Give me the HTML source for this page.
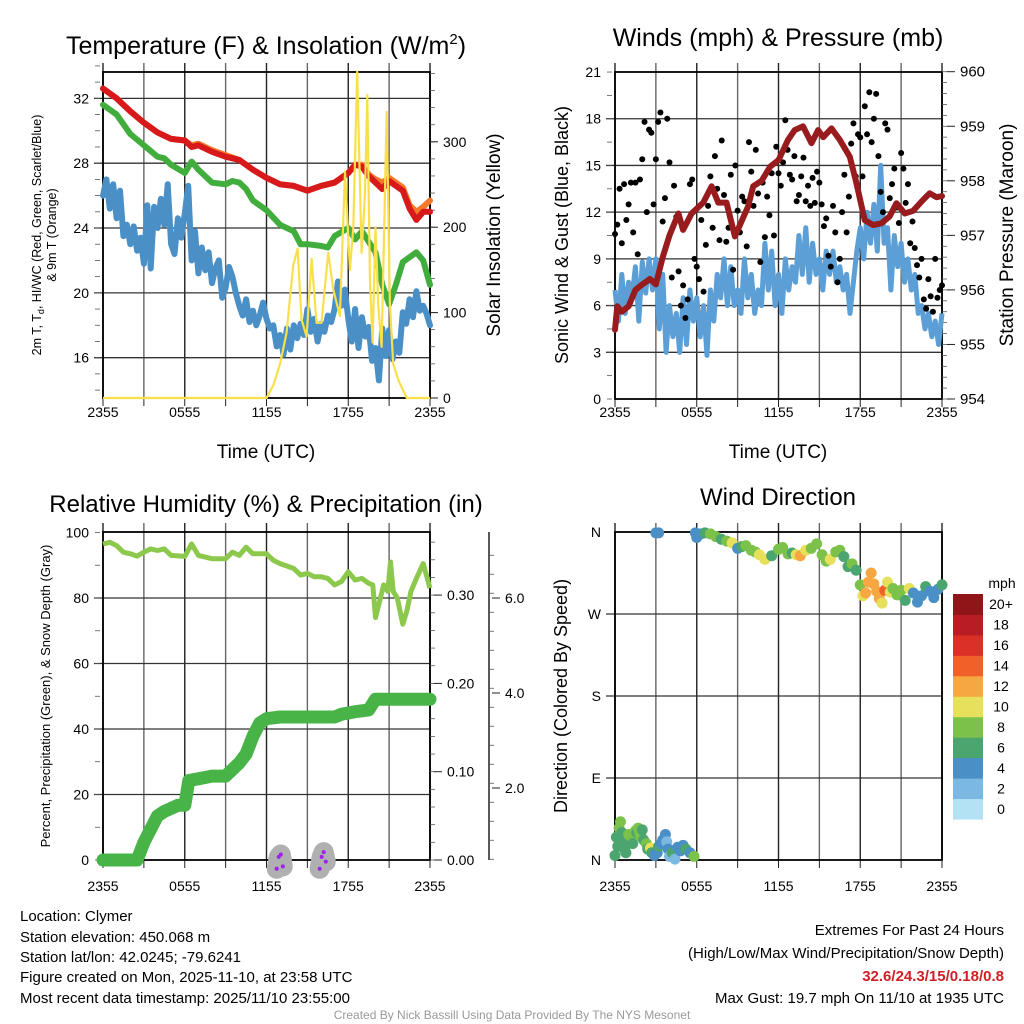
<!DOCTYPE html>
<html><head><meta charset="utf-8">
<style>
html,body{margin:0;padding:0;background:#fff;}
svg{display:block;font-family:"Liberation Sans",Arial,sans-serif;}
</style></head>
<body>
<svg id="fig" width="1024" height="1024" viewBox="0 0 1024 1024">
<rect width="1024" height="1024" fill="#fff"/>
<g id="g1"></g>
<g id="g2"></g>
<g id="g3"></g>
<g id="g4"></g>

<text x="266" y="54" font-size="25" text-anchor="middle">Temperature (F) &amp; Insolation (W/m<tspan dy="-10" font-size="15">2</tspan><tspan dy="10">)</tspan></text>
<text x="778" y="46" font-size="25" text-anchor="middle">Winds (mph) &amp; Pressure (mb)</text>
<text x="266" y="512" font-size="24" text-anchor="middle">Relative Humidity (%) &amp; Precipitation (in)</text>
<text x="778" y="505" font-size="24" text-anchor="middle">Wind Direction</text>

<text x="266" y="458" font-size="19" text-anchor="middle">Time (UTC)</text>
<text x="778" y="458" font-size="19" text-anchor="middle">Time (UTC)</text>

<text transform="translate(41,235) rotate(-90)" font-size="12.5" text-anchor="middle">2m T, T<tspan dy="3" font-size="9">d</tspan><tspan dy="-3">, HI/WC (Red, Green, Scarlet/Blue)</tspan></text>
<text transform="translate(56,235) rotate(-90)" font-size="12.5" text-anchor="middle">&amp; 9m T (Orange)</text>
<text transform="translate(500,235) rotate(-90)" font-size="19" text-anchor="middle">Solar Insolation (Yellow)</text>
<text transform="translate(568,235) rotate(-90)" font-size="18" text-anchor="middle">Sonic Wind &amp; Gust (Blue, Black)</text>
<text transform="translate(1013,235) rotate(-90)" font-size="19" text-anchor="middle">Station Pressure (Maroon)</text>
<text transform="translate(50,696) rotate(-90)" font-size="13" text-anchor="middle">Percent, Precipitation (Green), &amp; Snow Depth (Gray)</text>
<text transform="translate(567,696) rotate(-90)" font-size="18" text-anchor="middle">Direction (Colored By Speed)</text>

<g font-size="15">
<text x="20" y="921">Location: Clymer</text>
<text x="20" y="942">Station elevation: 450.068 m</text>
<text x="20" y="962">Station lat/lon: 42.0245; -79.6241</text>
<text x="20" y="982">Figure created on Mon, 2025-11-10, at 23:58 UTC</text>
<text x="20" y="1003">Most recent data timestamp: 2025/11/10 23:55:00</text>
</g>
<g font-size="15" text-anchor="end">
<text x="1004" y="935">Extremes For Past 24 Hours</text>
<text x="1004" y="958">(High/Low/Max Wind/Precipitation/Snow Depth)</text>
<text x="1004" y="981" fill="#d02027" font-weight="bold">32.6/24.3/15/0.18/0.8</text>
<text x="1004" y="1003">Max Gust: 19.7 mph On 11/10 at 1935 UTC</text>
</g>
<text x="512" y="1019" font-size="12" fill="#999" text-anchor="middle">Created By Nick Bassill Using Data Provided By The NYS Mesonet</text>
</svg>
<script>
const NS='http://www.w3.org/2000/svg';
// ---------- data ----------
const xTickLabels=['2355','0555','1155','1755','2355'];
const tempTicks=[16,20,24,28,32];
const solarTicks=[0,100,200,300];
const windTicks=[0,3,6,9,12,15,18,21];
const pressTicks=[954,955,956,957,958,959,960];
const rhTicks=[0,20,40,60,80,100];
const precipTicks=['0.00','0.10','0.20','0.30'];
const snowTicks=['2.0','4.0','6.0'];
const dirTicks=['N','E','S','W','N'];
const speedBins=['0','2','4','6','8','10','12','14','16','18','20+'];

const tempHours=[0,1,2,3,4,5,6,6.5,7,8,9,10,11,12,13,14,15,16,17,18,18.5,19,19.5,20,20.5,21,22,22.5,23,23.5,24];
const tempVals=[32.6,32.0,31.2,30.5,29.9,29.5,29.4,29.0,29.1,28.7,28.4,28.2,27.6,27.1,26.7,26.6,26.3,26.6,26.8,27.4,27.9,27.8,27.2,26.8,26.4,26.9,26.3,25.2,24.5,25.0,25.0];
const temp9Vals=[32.6,32.0,31.2,30.5,29.9,29.5,29.4,29.1,29.2,28.8,28.5,28.2,27.6,27.1,26.7,26.6,26.3,26.6,26.8,27.4,27.9,27.9,27.3,27.0,26.8,27.1,26.5,25.4,25.0,25.3,25.7];
const hiwcHours=[0,1,2,3,4,4.5,5,6,6.5,7,8,9,9.5,10,10.5,11,12,13,14,14.5,15,16,16.5,17,18,18.5,19,20,20.5,21,21.5,22,23,23.5,24];
const hiwcVals=[31.6,31.0,29.8,29.1,28.4,28.3,27.9,27.4,28.1,27.6,26.8,26.7,26.9,26.8,26.4,25.7,25.1,24.2,23.8,23.0,23.0,22.9,22.8,23.5,24.0,23.3,23.8,22.5,20.5,19.3,20.5,21.9,22.5,22.0,20.5];
const dewVals=[26.0,27.0,25.2,26.7,24.6,26.3,23.5,24.2,23.0,24.1,22.6,23.4,21.8,25.4,21.5,25.3,24.0,25.8,24.2,26.7,23.0,22.4,24.6,23.4,24.9,26.6,22.0,23.8,21.2,22.8,21.4,22.5,20.6,21.5,22.0,19.7,20.3,21.6,21.0,20.0,19.2,18.6,19.6,18.2,18.9,18.0,18.6,19.4,18.4,17.8,18.0,16.7,17.4,16.2,17.8,16.5,18.0,17.2,18.1,17.4,19.0,17.6,18.4,17.0,18.1,17.6,18.6,18.2,19.0,20.7,19.2,20.2,18.4,17.0,19.0,16.6,18.5,17.3,17.9,15.8,16.6,14.6,17.8,16.1,17.7,15.9,17.0,16.3,18.8,18.1,19.6,18.5,20.1,18.9,19.2,18.7,18.0];
const solarHours=[0,12.0,12.5,13.0,13.47,13.96,14.28,14.57,14.94,15.31,15.67,16.04,16.53,16.9,17.39,17.76,18.12,18.37,18.66,18.98,19.23,19.4,19.59,19.79,20.0,20.2,20.45,20.82,21.06,21.3,21.67,22.3,24];
const solarVals=[0,0,15,40,76,155,175,92,72,163,88,88,170,127,96,265,150,200,382,170,240,355,140,65,200,110,60,335,110,40,21,0,0];

const windVals=[7.0,5.0,8.0,5.5,7.5,6.5,8.5,5.0,8.8,6.8,9.0,7.0,9.0,4.5,8.0,3.0,6.0,4.0,5.5,3.0,6.5,3.5,7.0,5.0,6.5,4.0,6.0,2.8,7.0,5.0,8.0,6.5,9.0,6.0,8.5,6.0,7.0,5.5,9.0,6.5,8.0,5.5,7.0,6.0,10.0,7.0,9.5,6.0,8.0,5.5,9.0,7.0,8.5,7.5,10.5,8.0,11.0,7.5,10.0,8.0,9.0,7.0,9.5,8.0,9.5,7.5,8.5,7.0,8.0,5.5,7.5,9.5,11.0,9.0,12.0,10.0,12.5,9.5,15.0,10.0,11.0,7.0,10.5,8.5,10.0,7.5,9.0,7.0,8.0,5.5,6.0,4.5,5.5,4.0,5.0,3.5,5.5];
const gustVals=[10.6,11.2,13.5,10.0,13.8,11.5,12.5,13.9,10.7,13.9,9.3,14.1,15.4,17.8,12.0,17.3,17.1,12.5,15.4,17.8,18.4,11.4,12.9,18.0,15.2,7.8,13.7,11.7,8.2,6.0,7.3,5.2,6.4,13.8,14.1,9.0,8.5,7.7,11.5,6.9,9.9,12.4,14.3,11.0,15.6,13.5,10.2,16.6,13.1,10.1,11.0,14.4,8.3,15.0,12.1,10.7,13.0,12.7,9.8,16.5,14.6,12.4,16.0,13.2,8.8,13.9,10.4,13.0,11.8,14.5,10.5,16.2,14.5,13.7,15.2,17.9,16.0,14.4,14.1,15.6,12.7,13.1,14.3,15.5,12.7,13.7,12.4,14.2,12.6,14.6,13.9,12.5,11.1,11.6,9.2,8.5,12.4,10.7,7.5,9.0,12.0,14.4,10.7,13.0,16.4,17.7,14.3,17.0,16.8,14.3,18.8,17.0,19.7,16.5,18.0,19.6,15.6,13.3,12.0,17.7,17.3,12.9,13.8,14.8,12.3,11.3,15.8,14.8,12.6,13.8,10.0,11.4,9.7,8.6,7.8,9.0,6.4,5.8,7.7,6.6,5.6,9.0,6.5,7.0,7.3];
const pressHours=[0,0.17,0.49,1.0,1.5,2.0,2.56,3.0,3.5,4.0,4.65,5.0,5.62,6.48,7.09,7.58,8.18,8.8,9.77,10.14,10.76,11.39,12.0,12.7,13.19,13.8,14.42,14.91,15.28,15.89,16.5,17.23,17.72,18.33,18.94,19.55,20.16,20.65,21.27,21.88,22.61,23.1,23.6,24];
const pressVals=[955.27,955.7,955.6,955.7,956.0,956.1,956.2,956.1,956.6,957.0,957.4,957.1,957.4,957.6,957.9,957.6,957.6,956.98,957.53,957.9,958.0,958.26,958.38,958.75,958.93,959.0,958.69,958.93,958.8,958.96,958.75,958.44,957.96,957.28,957.19,957.22,957.35,957.59,957.4,957.45,957.65,957.77,957.7,957.72];

const rhHours=[0,0.5,1,1.5,2,2.5,3,3.5,4,4.5,5,6,6.5,7,8,9,9.5,10,10.5,11,12,12.5,13,14,14.5,15,15.5,16,16.5,17,17.5,18,18.5,19,19.5,19.8,20,20.3,20.6,20.9,21.1,21.3,21.6,22,22.3,22.6,23,23.5,24];
const rhVals=[96.5,97,96,94,93.5,92.8,94,95,94.5,95,93,92.7,96.5,93,92,92,94,93,95.5,93.5,93.5,91.5,90.5,89,87,87.5,86.5,86.5,86,84,85,88,85.5,86,84.5,84,74,79,84,82,91,82,80,72,76,82,86,90.5,83];
const precipHours=[0,2.5,3,4,4.5,5.5,6,6.3,7,8,9,10,10.5,11,11.5,12,13,17,17.5,18.5,19.5,20,24];
const precipVals=[0,0,0.02,0.05,0.055,0.062,0.062,0.09,0.092,0.095,0.095,0.11,0.12,0.14,0.155,0.16,0.162,0.162,0.165,0.168,0.17,0.182,0.182];
const snowHours=[12.75,12.9,13.05,13.2,15.9,16.05,16.2,16.35];
const snowVals=[0.3,0.55,0.6,0.35,0.3,0.55,0.65,0.45];

const dirHours=[0.0,0.1,0.2,0.3,0.4,0.5,0.6,0.7,0.8,0.9,1.0,1.2,1.3,1.5,1.6,1.7,1.8,1.9,2.0,2.1,2.3,2.4,2.6,2.7,2.9,3.1,3.2,3.4,3.5,3.7,3.8,3.9,4.0,4.2,4.4,4.6,4.8,5.0,5.2,5.5,5.8,3.0,3.2,5.9,6.0,6.3,6.6,7.0,7.4,7.8,8.2,8.6,9.0,9.3,9.6,10.0,10.3,10.6,11.0,11.5,12.0,12.3,12.7,13.0,13.3,13.6,14.0,14.4,14.8,15.2,15.5,15.8,16.2,16.5,16.8,17.1,17.4,17.7,18.0,18.2,18.4,18.6,18.8,19.0,19.2,19.4,19.6,19.8,20.0,20.2,20.4,20.7,21.0,21.3,21.6,21.9,22.2,22.5,22.8,23.1,23.4,23.7,24.0];
const dirVals=[5,25,15,35,42,30,20,12,8,22,28,25,18,32,30,35,30,26,33,22,18,12,13,8,5,8,15,18,22,28,20,12,4,8,1,14,10,16,12,8,4,359,359,359,354,358,359,358,355,352,350,348,342,344,345,340,338,335,330,334,341,343,336,337,335,334,340,342,347,335,328,330,338,340,333,322,325,318,302,290,293,305,315,303,295,287,282,296,305,294,298,291,296,285,298,293,283,290,300,295,288,297,302];
const dirSpeed=[7,6,7,8,8,6,6,6,6,7,8,8,7,9,7,8,9,8,6,7,8,6,10,7,4,4,6,4,4,4,2,4,2,6,2,4,4,4,6,4,8,4,4,4,4,4,6,8,8,6,8,10,4,6,8,8,8,10,10,6,8,8,8,6,10,12,10,8,8,8,8,10,8,8,6,6,8,6,8,10,12,12,12,12,12,12,10,14,10,10,8,8,8,6,10,4,4,4,6,4,4,4,6];
const binColors=['#b3e2f5','#7cb9e2','#4a8fc6','#4aa56f','#7cc24a','#e7e05a','#f6a742','#f0612a','#db3027','#b91c23','#8f1518'];

// ---------- helpers ----------
function mk(tag,attrs,parent){const e=document.createElementNS(NS,tag);for(const k in attrs)e.setAttribute(k,attrs[k]);parent.appendChild(e);return e;}
function pts(xs,ys,fx,fy){return xs.map((x,i)=>fx(x).toFixed(1)+','+fy(ys[i]).toFixed(1)).join(' ');}
const L1=103,R1=430,L2=615,R2=942;
const xA=t=>L1+t/24*(R1-L1);
const xB=t=>L2+t/24*(R2-L2);
const yTemp=v=>357.7-(v-16)*16.21;
const ySolar=s=>398-s*0.854;
const yWind=v=>399-v*15.57;
const yPress=p=>399-(p-954)*54.55;
const yRH=p=>860-p*3.275;
const yPrecip=i=>860-i*883;
const ySnow=s=>883-s*47.5;
const yDir=d=>860-d*(328/360);

function frame(g,L,R,T,B,xfun,hy,labOff){
  for(let h=0;h<=24;h+=3){
    const x=xfun(h);
    const ln=mk('line',{x1:x,x2:x,y1:T-9,y2:B,stroke:(h%6===0)?'#222':'#666','stroke-width':1.4},g);
    
    
    const tk=mk('line',{x1:x,x2:x,y1:B,y2:B+8,stroke:'#222','stroke-width':1},g);
    
    
  }
  hy.forEach(y=>{
    const ln=mk('line',{x1:L-9,x2:R,y1:y,y2:y,stroke:'#333','stroke-width':1.3},g);
    
    
  });
  const r=mk('rect',{x:L,y:T,width:R-L,height:B-T,fill:'none',stroke:'#000','stroke-width':1.8},g);
  
  
  xTickLabels.forEach((s,i)=>{
    const t=mk('text',{x:xfun(i*6),y:B+labOff,'font-size':14,'text-anchor':'middle'},g);
    t.textContent=s;
    
    
  });
}
function leftLabel(g,x,y,s){const t=mk('text',{x:x,y:y+5,'font-size':14,'text-anchor':'end'},g);t.textContent=s;
  
  }
function rightLabel(g,x,y,s,fs){const t=mk('text',{x:x,y:y+5,'font-size':fs||14},g);t.textContent=s;
  
  
  const k=mk('line',{x1:x-13,x2:x-5,y1:y,y2:y,stroke:'#222'},g);
  
  }
function minor(g,x,y1,y2,n,dir){for(let i=0;i<=n;i++){const y=y1+(y2-y1)*i/n;const k=mk('line',{x1:x,x2:x+dir*5,y1:y,y2:y,stroke:'#555','stroke-width':0.8},g);
  
  }}

// ---------- panel 1 ----------
const g1=document.getElementById('g1');
frame(g1,L1,R1,72,398,xA,tempTicks.map(yTemp),19);
minor(g1,L1-3,yTemp(34),yTemp(14),20,-1);
minor(g1,R1,ySolar(380),ySolar(0),19,1);
tempTicks.forEach(v=>leftLabel(g1,L1-14,yTemp(v),String(v)));
solarTicks.forEach(v=>rightLabel(g1,R1+13,ySolar(v),String(v)));
let p;
p=mk('polyline',{points:pts(tempHours,temp9Vals,xA,yTemp),fill:'none',stroke:'#f47a2b','stroke-width':6,'stroke-linejoin':'round','stroke-linecap':'round'},g1);


p=mk('polyline',{points:pts(tempHours,tempVals,xA,yTemp),fill:'none',stroke:'#d7191c','stroke-width':6,'stroke-linejoin':'round','stroke-linecap':'round'},g1);


p=mk('polyline',{points:pts(hiwcHours,hiwcVals,xA,yTemp),fill:'none',stroke:'#41ad3d','stroke-width':6,'stroke-linejoin':'round','stroke-linecap':'round'},g1);


const dewHours=dewVals.map((v,i)=>i*0.25);
p=mk('polyline',{points:pts(dewHours,dewVals,xA,yTemp),fill:'none',stroke:'#4a8fc6','stroke-width':6,'stroke-linejoin':'round','stroke-linecap':'round'},g1);


p=mk('polyline',{points:pts(solarHours,solarVals,xA,ySolar),fill:'none',stroke:'#f9e04b','stroke-width':2.2,'stroke-linejoin':'round'},g1);



// ---------- panel 2 ----------
const g2=document.getElementById('g2');
frame(g2,L2,R2,72,399,xB,windTicks.slice(1,7).map(yWind),18);
minor(g2,L2-3,yWind(21),yWind(0),14,-1);
minor(g2,R2,yPress(960),yPress(954),30,1);
windTicks.forEach(v=>leftLabel(g2,L2-14,yWind(v),String(v)));
pressTicks.forEach(v=>rightLabel(g2,R2+18,yPress(v),String(v),15));
const windHours=windVals.map((v,i)=>i*0.25);
p=mk('polyline',{points:pts(windHours,windVals,xB,yWind),fill:'none',stroke:'#5b9fd6','stroke-width':5,'stroke-linejoin':'round'},g2);


gustVals.forEach((v,i)=>{
  const c=mk('circle',{cx:xB(i/6),cy:yWind(v),r:3,fill:'#000'},g2);
  
  
});
p=mk('polyline',{points:pts(pressHours,pressVals,xB,yPress),fill:'none',stroke:'#981b1e','stroke-width':6,'stroke-linejoin':'round','stroke-linecap':'round'},g2);



// ---------- panel 3 ----------
const g3=document.getElementById('g3');
frame(g3,L1,R1,532,860,xA,rhTicks.slice(1,5).map(yRH),31);
minor(g3,L1-3,yRH(100),yRH(0),10,-1);
minor(g3,R1,yPrecip(0.36),yPrecip(0),18,1);
rhTicks.forEach(v=>leftLabel(g3,L1-14,yRH(v),String(v)));
precipTicks.forEach(v=>rightLabel(g3,R1+17,yPrecip(+v),v));
let ax=mk('line',{x1:489,x2:489,y1:532,y2:860,stroke:'#222','stroke-width':1.5},g3);


minor(g3,489,ySnow(6.9),ySnow(0.5),16,1);
snowTicks.forEach(v=>rightLabel(g3,505,ySnow(+v),v));
p=mk('polyline',{points:pts(rhHours,rhVals,xA,yRH),fill:'none',stroke:'#8cc84b','stroke-width':5,'stroke-linejoin':'round'},g3);


p=mk('polyline',{points:pts(precipHours,precipVals,xA,yPrecip),fill:'none',stroke:'#48b448','stroke-width':13,'stroke-linejoin':'round','stroke-linecap':'round'},g3);


[[0,4],[4,8]].forEach(([a,b])=>{
  const sp=mk('polyline',{points:pts(snowHours.slice(a,b),snowVals.slice(a,b),xA,ySnow),fill:'none',stroke:'#b0b0b0','stroke-width':20,'stroke-linejoin':'round','stroke-linecap':'round'},g3);
  
  
});
snowHours.forEach((h,i)=>{
  const c=mk('circle',{cx:xA(h),cy:ySnow(snowVals[i]),r:2,fill:'#a020f0'},g3);
  
  
});

// ---------- panel 4 ----------
const g4=document.getElementById('g4');
frame(g4,L2,R2,532,860,xB,[90,180,270].map(yDir),31);
dirTicks.forEach((s,i)=>leftLabel(g4,L2-14,yDir(i*90),s));
dirHours.forEach((h,i)=>{
  const bin=Math.min(10,Math.floor(dirSpeed[i]/2));
  const c=mk('circle',{cx:xB(h),cy:yDir(dirVals[i]),r:5.5,fill:binColors[bin]},g4);
  
  
});
const cbTop=594,cbH=225/11;
speedBins.forEach((s,i)=>{
  const k=10-i;
  const r=mk('rect',{x:953,y:cbTop+k*cbH,width:30,height:cbH+0.5,fill:binColors[i]},g4);
  
  
  const t=mk('text',{x:1001,y:cbTop+k*cbH+cbH/2+5,'font-size':14,'text-anchor':'middle'},g4);
  t.textContent=s;
  
  
});
const mph=mk('text',{x:1002,y:588,'font-size':14,'text-anchor':'middle'},g4);
mph.textContent='mph';


</script>
</body></html>
